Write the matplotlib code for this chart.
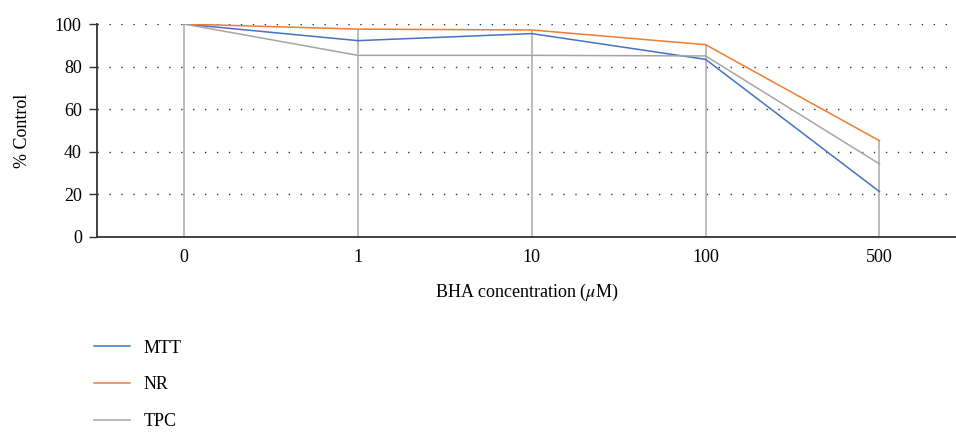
import numpy as np
import matplotlib
matplotlib.use("Agg")
import matplotlib.pyplot as plt
from matplotlib.lines import Line2D

categories = ["0", "1", "10", "100", "500"]
mtt = [100, 92.2, 95.5, 83.4, 21.3]
nr = [100, 97.6, 97.2, 90.3, 45.2]
tpc = [100, 85.3, 85.3, 85.0, 34.3]

plt.rcParams['font.family'] = ['Liberation Serif', 'DejaVu Serif']
plt.rcParams['mathtext.fontset'] = 'stix'
fs = 13

fig = plt.figure(figsize=(9.56, 4.32), dpi=100)
ax = fig.add_axes([0.1015, 0.4514, 0.8985, 0.4930])

x = np.arange(len(categories))

# drop lines from the highest series down to the axis
top = np.max([mtt, nr, tpc], axis=0)
ax.vlines(x, 0, top, color='#b0b0b0', lw=1.2, zorder=2)

ax.plot(x, mtt, color='#4472c4', lw=1.1, zorder=3)
ax.plot(x, nr, color='#ed7d31', lw=1.1, zorder=3)
ax.plot(x, tpc, color='#a5a5a5', lw=1.1, zorder=3)

ax.set_xlim(-0.5, 4.44)
ax.set_ylim(0, 100)
ax.set_yticks([0, 20, 40, 60, 80, 100])
ax.set_xticks(x)
ax.set_xticklabels(categories)
ax.tick_params(axis='x', length=0, pad=9, labelsize=fs)
ax.tick_params(axis='y', length=6, width=1, pad=5, labelsize=fs, color='#333333')
ax.yaxis.grid(True, linestyle=(0, (1, 7.6)), color='#333333', lw=1)
ax.set_axisbelow(True)
for s in ['top', 'right']:
    ax.spines[s].set_visible(False)
for s in ['left', 'bottom']:
    ax.spines[s].set_color('#333333')
    ax.spines[s].set_linewidth(1.3)

ax.set_xlabel(r'BHA concentration ($\mu$M)', fontsize=fs, labelpad=11)
ax.set_ylabel('% Control', fontsize=fs, labelpad=17)

handles = [Line2D([], [], color='#4472c4', lw=1.1),
           Line2D([], [], color='#ed7d31', lw=1.1),
           Line2D([], [], color='#a5a5a5', lw=1.1)]
fig.legend(handles, ['MTT', 'NR', 'TPC'], loc='upper left',
           bbox_to_anchor=(0.098, 0.214), frameon=False, fontsize=fs,
           handlelength=2.0, handletextpad=0.75, labelspacing=1.1,
           borderaxespad=0, borderpad=0)

fig.savefig('out.png', dpi=100)
